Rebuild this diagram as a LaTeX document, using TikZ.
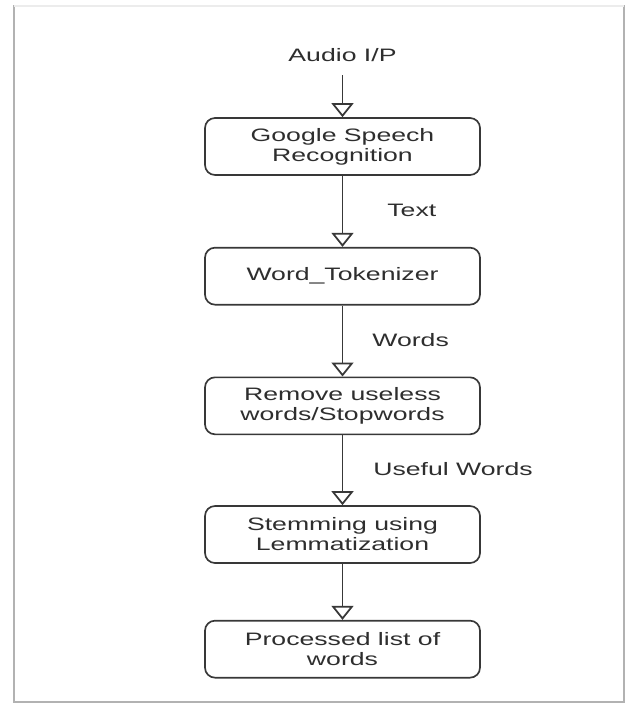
\documentclass[tikz,border=0pt]{standalone}
\usepackage{fontspec}
\setmainfont{Liberation Sans}[FakeStretch=1.48]
\usepackage{xcolor}
\usepackage{tikz}
\usetikzlibrary{positioning, shapes, arrows.meta}

\definecolor{inkgray}{HTML}{2E2E2E}
\definecolor{linegray}{HTML}{383838}

\begin{document}
\begin{tikzpicture}[>={Triangle[open, width=0.44cm, length=0.28cm]}, node distance=1.42cm, auto,
    box/.style={draw=linegray, line width=0.95pt, rectangle, rounded corners=0.2cm,
        minimum width=5.5cm, minimum height=1.14cm, align=center, text=inkgray,
        font=\fontsize{10.24}{11.4}\selectfont},
    lbl/.style={text=inkgray, inner sep=0.07cm, text height=0.27cm, text depth=0.07cm,
        font=\fontsize{10.24}{11.4}\selectfont},
    flow/.style={->, draw=linegray, line width=1pt}]

        % Page and frame
        \fill[white] (0,0) rectangle (12.6,-14.12);
        \useasboundingbox (0,0) rectangle (12.6,-14.12);
        \draw[gray!60, line width=1.6pt] (0.28,-0.12) rectangle (12.48,-14.04);
        \draw[gray!15, line width=1.7pt] (0.28,-0.12) -- (12.48,-0.12);

        % Processing steps
        \node[box] (gsr) at (6.85,-2.93) {Google Speech\\Recognition};
        \node[box, below=of gsr] (tok) {Word\_Tokenizer};
        \node[box, below=of tok] (stop) {Remove useless\\words/Stopwords};
        \node[box, below=1.40cm of stop] (lem) {Stemming using\\Lemmatization};
        \node[box, below=1.12cm of lem] (out) {Processed list of\\words};

        % Input
        \node[lbl, outer sep=0.13cm, above=0.84cm of gsr] (audio) {Audio I/P};

        % Connections
        \draw[flow] (audio) -- (gsr);
        \draw[flow] (gsr) -- node[lbl, right=0.81cm] {Text} (tok);
        \draw[flow] (tok) -- node[lbl, right=0.51cm] {Words} (stop);
        \draw[flow] (stop) -- node[lbl, right=0.53cm] {Useful Words} (lem);
        \draw[flow] (lem) -- (out);

    \end{tikzpicture}
\end{document}
